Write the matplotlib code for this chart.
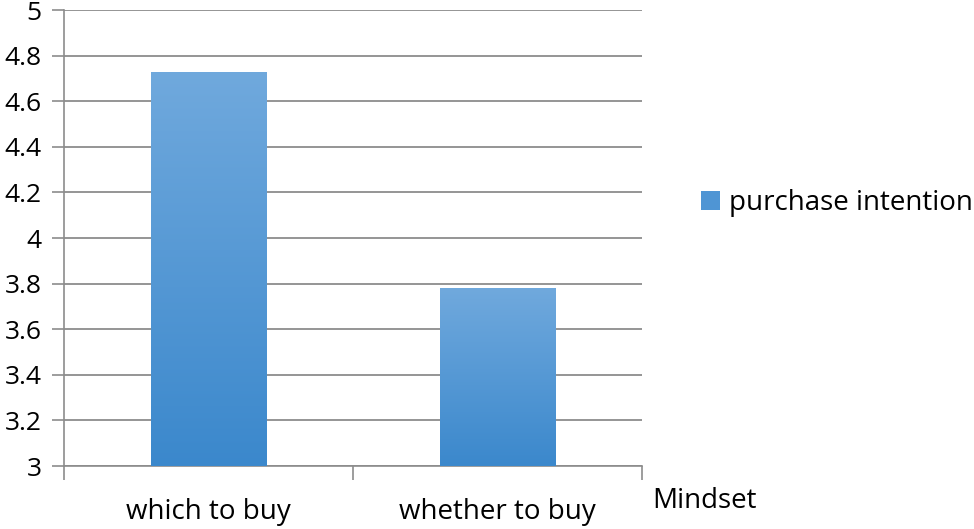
import matplotlib
matplotlib.use("Agg")
import matplotlib.pyplot as plt
import numpy as np
from matplotlib.colors import LinearSegmentedColormap
from matplotlib.patches import Patch

categories = ["which to buy", "whether to buy"]
values = [4.73, 3.78]
series_name = "purchase intention"
y_ticks = [3, 3.2, 3.4, 3.6, 3.8, 4, 4.2, 4.4, 4.6, 4.8, 5]
y_tick_labels = ["3", "3.2", "3.4", "3.6", "3.8", "4", "4.2", "4.4", "4.6", "4.8", "5"]

plt.rcParams['font.family'] = ['Open Sans', 'DejaVu Sans']
fig = plt.figure(figsize=(9.74, 5.29), dpi=100)
W, H = 974, 529
ax = fig.add_axes([64 / W, 1 - 466 / H, (642 - 64) / W, (466 - 10) / H])

FS = 20
grid_col = "#8c8c8c"
cmap = LinearSegmentedColormap.from_list("g", ["#3b88cc", "#70a9dd"])
x = np.arange(len(categories))
bars = ax.bar(x, values, width=0.4, bottom=0, color="none", zorder=3)
grad = np.linspace(0, 1, 256).reshape(-1, 1)
for b in bars:
    x0, y0 = b.get_x(), 3
    x1, y1 = x0 + b.get_width(), b.get_height()
    im = ax.imshow(grad, cmap=cmap, origin="lower", aspect="auto",
                   extent=[x0, x1, y0, y1], zorder=3)
    im.set_clip_path(b)

ax.set_xlim(-0.5, 1.5)
ax.set_ylim(3, 5)
ax.set_yticks(y_ticks)
ax.set_yticklabels(y_tick_labels)
ax.set_xticks(x)
ax.set_xticklabels(categories)
ax.set_xticks([-0.5, 0.5, 1.5], minor=True)
ax.tick_params(axis="x", which="major", length=0, pad=23, labelsize=FS)
ax.tick_params(axis="x", which="minor", length=10, width=1.2, color=grid_col, direction="out")
ax.tick_params(axis="y", length=9, width=1.2, color=grid_col, direction="out", labelsize=19, pad=7)
ax.yaxis.grid(True, color=grid_col, linewidth=1.3, zorder=0)
ax.set_axisbelow(True)
for s in ["top", "right"]:
    ax.spines[s].set_visible(False)
for s in ["left", "bottom"]:
    ax.spines[s].set_color(grid_col)
    ax.spines[s].set_linewidth(1.2)

fig.text(652 / W, 1 - 501 / H, "Mindset", fontsize=FS, va="center", ha="left")

handle = Patch(facecolor="#4f95d4", edgecolor="none")
fig.legend([handle], [series_name], loc="center left",
           bbox_to_anchor=(701 / W, 1 - 203 / H), frameon=False,
           fontsize=FS, handlelength=0.7, handleheight=0.7, handletextpad=0.3,
           borderaxespad=0, borderpad=0)

fig.savefig("out.png", dpi=100)
